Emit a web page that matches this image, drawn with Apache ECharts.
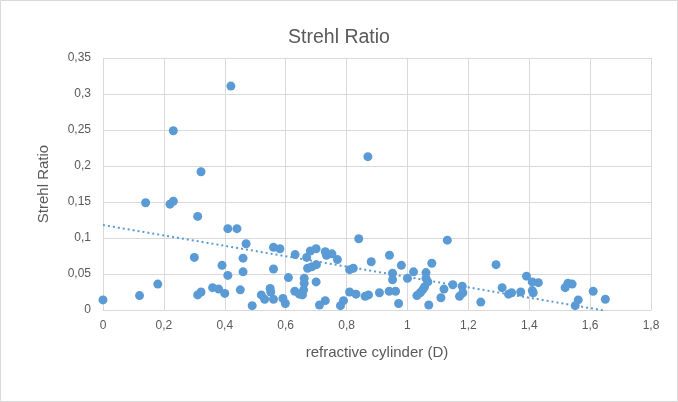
<!DOCTYPE html>
<html>
<head>
<meta charset="utf-8">
<script src="https://cdn.jsdelivr.net/npm/echarts@6/dist/echarts.min.js"></script>
<style>
html,body{margin:0;padding:0;background:#fff;}
#c{width:678px;height:402px;}
</style>
</head>
<body>
<div id="c"></div>
<script>
// refractive cylinder (D)
var cylX = [0.00,0.12,0.14,0.18,0.22,0.231,0.231,0.300,0.311,0.322,0.311,0.322,0.36,0.38,0.391,0.40,0.41,0.41,0.42,0.44,
0.451,0.46,0.46,0.47,0.49,0.52,0.531,0.549,0.551,0.56,0.56,0.56,0.581,0.591,0.599,0.609,0.631,0.630,0.645,0.655,
0.659,0.661,0.661,0.669,0.672,0.681,0.686,0.700,0.701,0.700,0.711,0.730,0.730,0.734,0.752,0.770,0.780,0.790,0.810,0.822,
0.810,0.831,0.840,0.861,0.872,0.870,0.881,0.908,0.941,0.940,0.951,0.951,0.961,0.971,0.980,1.000,1.020,1.031,1.042,1.050,
1.056,1.061,1.061,1.067,1.070,1.080,1.110,1.120,1.131,1.149,1.171,1.180,1.182,1.241,1.291,1.311,1.332,1.342,1.372,1.391,
1.410,1.430,1.410,1.413,1.518,1.527,1.541,1.561,1.551,1.610,1.650];
// Strehl Ratio
var strehlY = [0.014,0.020,0.149,0.036,0.147,0.151,0.249,0.073,0.130,0.192,0.021,0.025,0.031,0.029,0.062,0.023,0.113,0.048,0.311,0.113,
0.028,0.072,0.053,0.092,0.006,0.021,0.015,0.030,0.025,0.015,0.087,0.057,0.085,0.016,0.009,0.045,0.077,0.026,0.022,0.021,
0.028,0.037,0.044,0.073,0.058,0.082,0.060,0.085,0.063,0.039,0.007,0.013,0.081,0.076,0.078,0.070,0.006,0.013,0.056,0.058,
0.025,0.022,0.099,0.019,0.021,0.213,0.067,0.024,0.076,0.026,0.051,0.042,0.026,0.009,0.062,0.044,0.053,0.020,0.024,0.028,
0.032,0.052,0.044,0.039,0.007,0.065,0.017,0.029,0.097,0.035,0.019,0.033,0.024,0.011,0.063,0.031,0.022,0.024,0.025,0.047,
0.039,0.038,0.027,0.024,0.031,0.037,0.036,0.014,0.006,0.026,0.015];
// linear trendline endpoints
var trendX = [0.0, 1.65];
var trendY = [0.118, -0.001];
var xTickLabels = ['0','0,2','0,4','0,6','0,8','1','1,2','1,4','1,6','1,8'];
var yTickLabels = ['0','0,05','0,1','0,15','0,2','0,25','0,3','0,35'];

var FONT = 'Liberation Sans';
var TXT = '#595959';
var GRID = '#d9d9d9';
var BLUE = '#5b9bd5';

var pts = cylX.map(function(x,i){return [x, strehlY[i]];});
var trend = trendX.map(function(x,i){return [x, trendY[i]];});

var chart = echarts.init(document.getElementById('c'), null, {renderer:'canvas'});
chart.setOption({
  animation:false,
  backgroundColor:'#fff',
  graphic:[{type:'rect', shape:{x:0.5,y:0.5,width:677,height:401}, style:{fill:'none', stroke:GRID, lineWidth:1}, silent:true}],
  title:{text:'Strehl Ratio', left:'center', top:23, textStyle:{fontFamily:FONT, fontSize:19.5, fontWeight:'normal', color:TXT}},
  grid:{left:103, right:27, top:58, bottom:92, containLabel:false},
  xAxis:{
    type:'value', min:0, max:1.8, interval:0.2,
    name:'refractive cylinder (D)', nameLocation:'middle', nameGap:35,
    nameTextStyle:{fontFamily:FONT, fontSize:15, color:TXT},
    axisLine:{show:true, lineStyle:{color:GRID}},
    axisTick:{show:false},
    splitLine:{show:true, lineStyle:{color:GRID}},
    axisLabel:{margin:10, fontFamily:FONT, fontSize:12, color:TXT,
      formatter:function(v){return xTickLabels[Math.round(v/0.2)];}}
  },
  yAxis:{
    type:'value', min:0, max:0.35, interval:0.05,
    name:'Strehl Ratio', nameLocation:'middle', nameGap:52,
    nameTextStyle:{fontFamily:FONT, fontSize:15, color:TXT},
    axisLine:{show:false},
    axisTick:{show:false},
    splitLine:{show:true, lineStyle:{color:GRID}},
    axisLabel:{margin:12, fontFamily:FONT, fontSize:12, color:TXT,
      formatter:function(v){return yTickLabels[Math.round(v/0.05)];}}
  },
  series:[
    {type:'line', data:trend, symbol:'none', silent:true, z:3,
      lineStyle:{color:BLUE, width:2, type:[2,3]}},
    {type:'scatter', data:pts, symbol:'circle', symbolSize:9, z:4,
      itemStyle:{color:BLUE, opacity:1}}
  ]
});
</script>
</body>
</html>
